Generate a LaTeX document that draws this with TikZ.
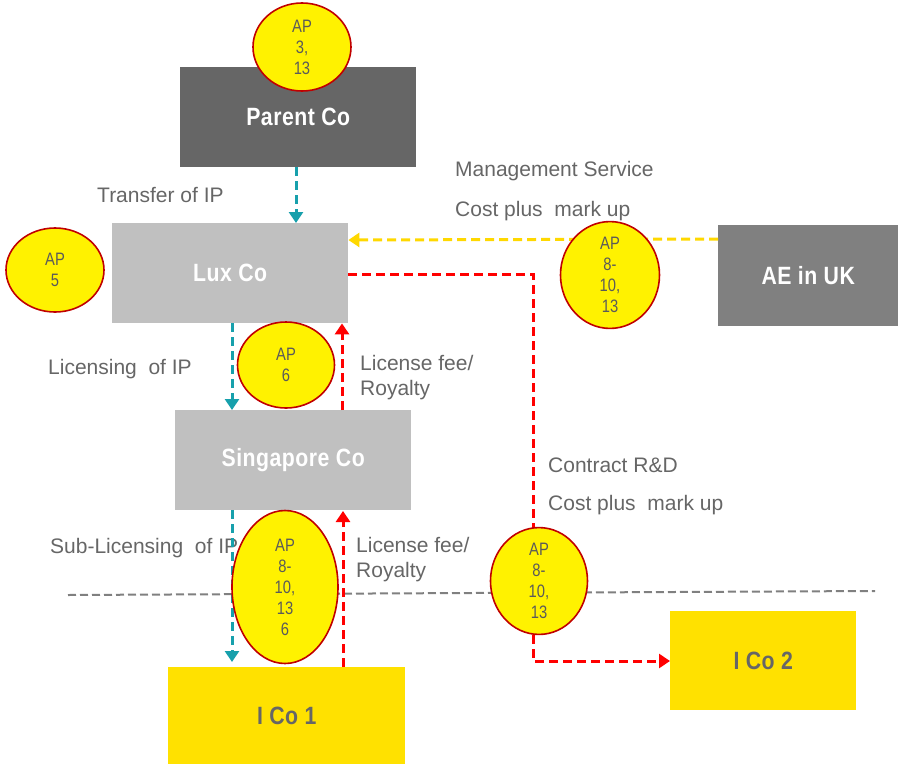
\documentclass[tikz,border=0pt]{standalone}
\usepackage{fontspec}
\setmainfont{Liberation Sans}
\newfontfamily\boxfont[FakeStretch=0.85,LetterSpace=2]{Liberation Sans}
\newfontfamily\apfont[FakeStretch=0.82]{Liberation Sans}
\usetikzlibrary{shapes.geometric,arrows.meta}
\definecolor{darkbox}{HTML}{666666}
\definecolor{lightbox}{HTML}{C0C0C0}
\definecolor{midbox}{HTML}{808080}
\definecolor{goldbox}{HTML}{FFE100}
\definecolor{labelgrey}{HTML}{666666}
\definecolor{aptext}{HTML}{5A5A5A}
\definecolor{aprim}{HTML}{C00000}
\definecolor{ipteal}{HTML}{17A0AC}
\definecolor{feered}{HTML}{FF0000}
\definecolor{svcyellow}{HTML}{FFD800}
\definecolor{borderline}{HTML}{808080}
\tikzset{
  entity/.style={rectangle, draw=none, inner sep=0pt, anchor=north west,
    font=\boxfont\bfseries\fontsize{25}{27}\selectfont},
  apnote/.style={ellipse, draw=aprim, line width=1.6pt, fill=yellow, inner sep=0pt,
    text=aptext, align=center, font=\apfont\fontsize{18}{21}\selectfont},
  flowlabel/.style={anchor=west, inner sep=0pt, text=labelgrey,
    font=\fontsize{21}{25}\selectfont, align=left},
  flow/.style={line width=3pt, dash pattern=on 9pt off 5pt,
    -{Triangle[width=14pt,length=11pt]}},
  ipflow/.style={flow, ipteal},
  feeflow/.style={flow, feered},
  svcflow/.style={flow, svcyellow},
}
\begin{document}
\begin{tikzpicture}[x=1pt,y=-1pt]
\useasboundingbox (0,0) rectangle (898,764);

% group entities
\node[entity, fill=darkbox, text=white, minimum width=236pt, minimum height=100pt] (parent) at (180,67) {Parent Co};
\node[entity, fill=lightbox, text=white, minimum width=236pt, minimum height=100pt] (lux) at (112,223) {Lux Co};
\node[entity, fill=midbox, text=white, minimum width=180pt, minimum height=101pt] (ae) at (718,225) {AE in UK};
\node[entity, fill=lightbox, text=white, minimum width=236pt, minimum height=100pt] (sing) at (175,410) {Singapore Co};
\node[entity, fill=goldbox, text=labelgrey, minimum width=237pt, minimum height=97pt] (ico1) at (168,667) {I Co 1};
\node[entity, fill=goldbox, text=labelgrey, minimum width=186pt, minimum height=99pt] (ico2) at (670,611) {I Co 2};

% jurisdiction boundary
\coordinate (bl) at (68,595);
\coordinate (br) at (875,591);
\draw[borderline, line width=2pt, dash pattern=on 8pt off 4pt] (bl) -- (br);

% flow labels
\node[flowlabel] (ltransfer) at (97,195) {Transfer of IP};
\node[flowlabel] (lmgmt) at (455,171) {Management Service};
\node[flowlabel] (lmgmtcost) at (455,211) {Cost plus\ \ mark up};
\node[flowlabel] (llic) at (48,369) {Licensing\ \ of IP};
\node[flowlabel] (lfee1) at (360,378) {License fee/\\Royalty};
\node[flowlabel] (lcrd) at (548,465) {Contract R\&D};
\node[flowlabel] (lcrdcost) at (548,505) {Cost plus\ \ mark up};
\node[flowlabel] (lsub) at (50,548) {Sub-Licensing\ \ of IP};
\node[flowlabel] (lfee2) at (356,560) {License fee/\\Royalty};

% flows
\coordinate (subtip) at (232,662);
\coordinate (feetip) at (343,511);
\draw[ipflow] (parent.south -| 296,0) -- (lux.north -| 296,0);
\draw[ipflow] (lux.south -| 232,0) -- (sing.north -| 232,0);
\draw[ipflow] (sing.south -| 232,0) -- (subtip);
\draw[feeflow] (sing.north -| 342,0) -- (lux.south -| 342,0);
\draw[feeflow] (ico1.north -| 343,0) -- (feetip);
\draw[svcflow] (ae.west |- 0,239) -- (lux.east |- 0,240);
\coordinate (rdcornerA) at (533,274);
\coordinate (rdcornerB) at (533,661);
\draw[feeflow] (lux.east |- 0,274) -- (rdcornerA) -- (rdcornerB) -- (ico2.west |- rdcornerB);

% approval notes
\node[apnote, minimum width=98pt, minimum height=88pt] (ap313) at (302,47) {AP\\3,\\13};
\node[apnote, minimum width=98pt, minimum height=84pt] (ap5) at (55,270) {AP\\5};
\node[apnote, minimum width=99pt, minimum height=92pt] (apuk) at (610,275) {AP\\8-\\10,\\13};
\node[apnote, minimum width=97pt, minimum height=86pt] (ap6) at (286,365) {AP\\6};
\node[apnote, minimum width=106pt, minimum height=153pt] (apico1) at (285,587) {AP\\8-\\10,\\13\\6};
\node[apnote, minimum width=97pt, minimum height=98pt] (apico2) at (539,581) {AP\\8-\\10,\\13};
\end{tikzpicture}
\end{document}
